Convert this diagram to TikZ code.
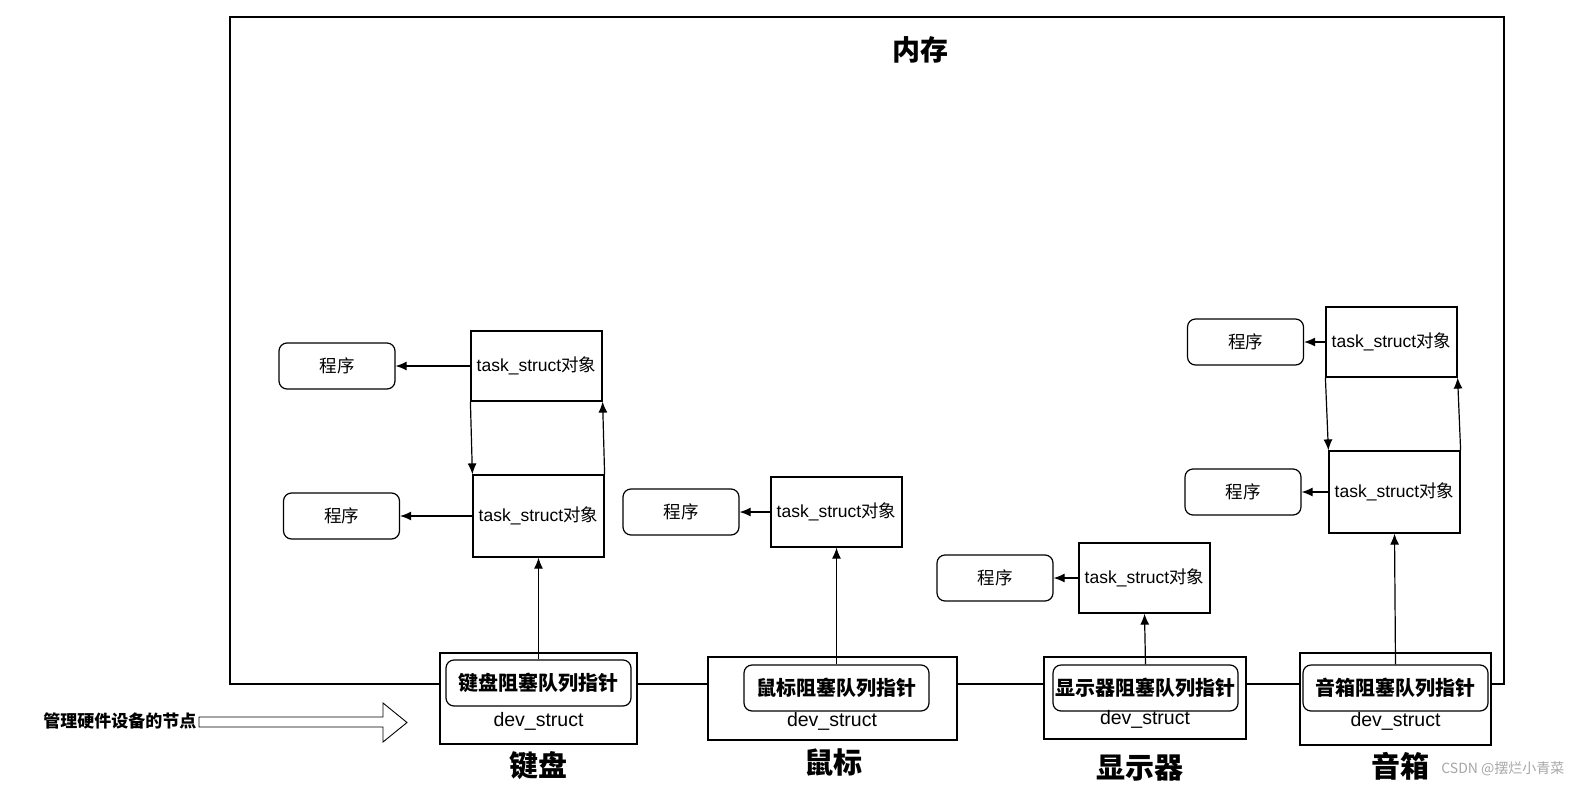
\documentclass[tikz,border=0pt]{standalone}
\usepackage{fontspec}
\setmainfont{Liberation Sans}
\newfontfamily\cjk{Noto Sans CJK SC}
\usetikzlibrary{arrows.meta}

\begin{document}
\begin{tikzpicture}[x=1pt,y=-1pt,line width=1.2pt,
	task/.style={rectangle,draw,minimum width=131pt,minimum height=70pt,inner sep=0pt,font=\fontsize{17.5}{20}\selectfont},
	prog/.style={rectangle,draw,rounded corners=8pt,minimum width=116pt,minimum height=46pt,inner sep=0pt,font=\cjk\fontsize{17.5}{20}\selectfont},
	dev/.style={rectangle,draw,fill=white,inner sep=0pt},
	ptr/.style={rectangle,draw,rounded corners=8pt,minimum width=185pt,minimum height=46pt,inner sep=0pt,font=\cjk\bfseries\fontsize{20}{24}\selectfont},
	devname/.style={inner sep=0pt,font=\fontsize{19.5}{22}\selectfont},
	lab/.style={inner sep=0pt,font=\cjk\bfseries\fontsize{29}{34}\selectfont},
	arr/.style={-{Latex[length=11pt,width=9pt]}}]
	\useasboundingbox (0,0) rectangle (1569,790);
	% memory frame
	\path (867,350.5) node(mem)[rectangle,draw,minimum width=1274pt,minimum height=667pt,inner sep=0pt]{}
	(920,50) node(memt)[inner sep=0pt,font=\cjk\bfseries\fontsize{28}{32}\selectfont]{内存};
	% task_struct objects
	\path (536.5,366) node(k1)[task]{task\_struct{\cjk 对象}}
	(538.5,516) node(k2)[task,minimum height=82pt]{task\_struct{\cjk 对象}}
	(836.5,512) node(m1)[task]{task\_struct{\cjk 对象}}
	(1144.5,578) node(d1)[task]{task\_struct{\cjk 对象}}
	(1391.5,342) node(s1)[task]{task\_struct{\cjk 对象}}
	(1394.5,492) node(s2)[task,minimum height=82pt]{task\_struct{\cjk 对象}};
	% programs
	\path (337,366) node(pk1)[prog]{程序}
	(341.5,516) node(pk2)[prog]{程序}
	(681,512) node(pm1)[prog]{程序}
	(995,578) node(pd1)[prog]{程序}
	(1245.5,342) node(ps1)[prog]{程序}
	(1243,492) node(ps2)[prog]{程序};
	% devices
	\path (538.5,698.5) node(kdev)[dev,minimum width=197pt,minimum height=91pt]{}
	(832.5,698.5) node(mdev)[dev,minimum width=249pt,minimum height=83pt]{}
	(1145,698) node(ddev)[dev,minimum width=202pt,minimum height=82pt]{}
	(1395.5,699) node(sdev)[dev,minimum width=191pt,minimum height=92pt]{};
	\path (538.5,683) node(kptr)[ptr]{键盘阻塞队列指针}
	(836.5,688) node(mptr)[ptr]{鼠标阻塞队列指针}
	(1145.5,688) node(dptr)[ptr]{显示器阻塞队列指针}
	(1395.5,688) node(sptr)[ptr]{音箱阻塞队列指针};
	\path (538.5,721) node(kds)[devname]{dev\_struct}
	(832,721) node(mds)[devname]{dev\_struct}
	(1145,719) node(dds)[devname]{dev\_struct}
	(1395.5,721) node(sds)[devname]{dev\_struct};
	% watermark
	\node(wm)[anchor=east,inner sep=0pt,text=black!35,font=\cjk\fontsize{14}{16}\selectfont] at (1565,769) {CSDN @摆烂小青菜};
	\path (538.5,766) node(klab)[lab]{键盘}
	(833,762) node(mlab)[lab]{鼠标}
	(1140,768) node(dlab)[lab]{显示器}
	(1400,766) node(slab)[lab]{音箱};
	% hardware node arrow
	\node(hw)[anchor=east,inner sep=0pt,font=\cjk\bfseries\fontsize{17}{20}\selectfont] at (197,721) {管理硬件设备的节点};
	\draw[line width=0.9pt,fill=white] (199,717)--(383,717)--(383,703)--(407,722.5)--(383,742)--(383,727)--(199,727)--cycle;
	% links
	\draw[arr](k1.west)--(pk1.east);
	\draw[arr](k2.west)--(pk2.east);
	\draw[arr](m1.west)--(pm1.east);
	\draw[arr](d1.west)--(pd1.east);
	\draw[arr](s1.west)--(ps1.east);
	\draw[arr](s2.west)--(ps2.east);
	\draw[arr](k1.south west)--(k2.north west);
	\draw[arr](k2.north east)--(k1.south east);
	\draw[arr](s1.south west)--(s2.north west);
	\draw[arr](s2.north east)--(s1.south east);
	\draw[arr](kptr.north)--(k2.south);
	\draw[arr](mptr.north)--(m1.south);
	\draw[arr](dptr.north)--(d1.south);
	\draw[arr](sptr.north)--(s2.south);
\end{tikzpicture}
\end{document}
